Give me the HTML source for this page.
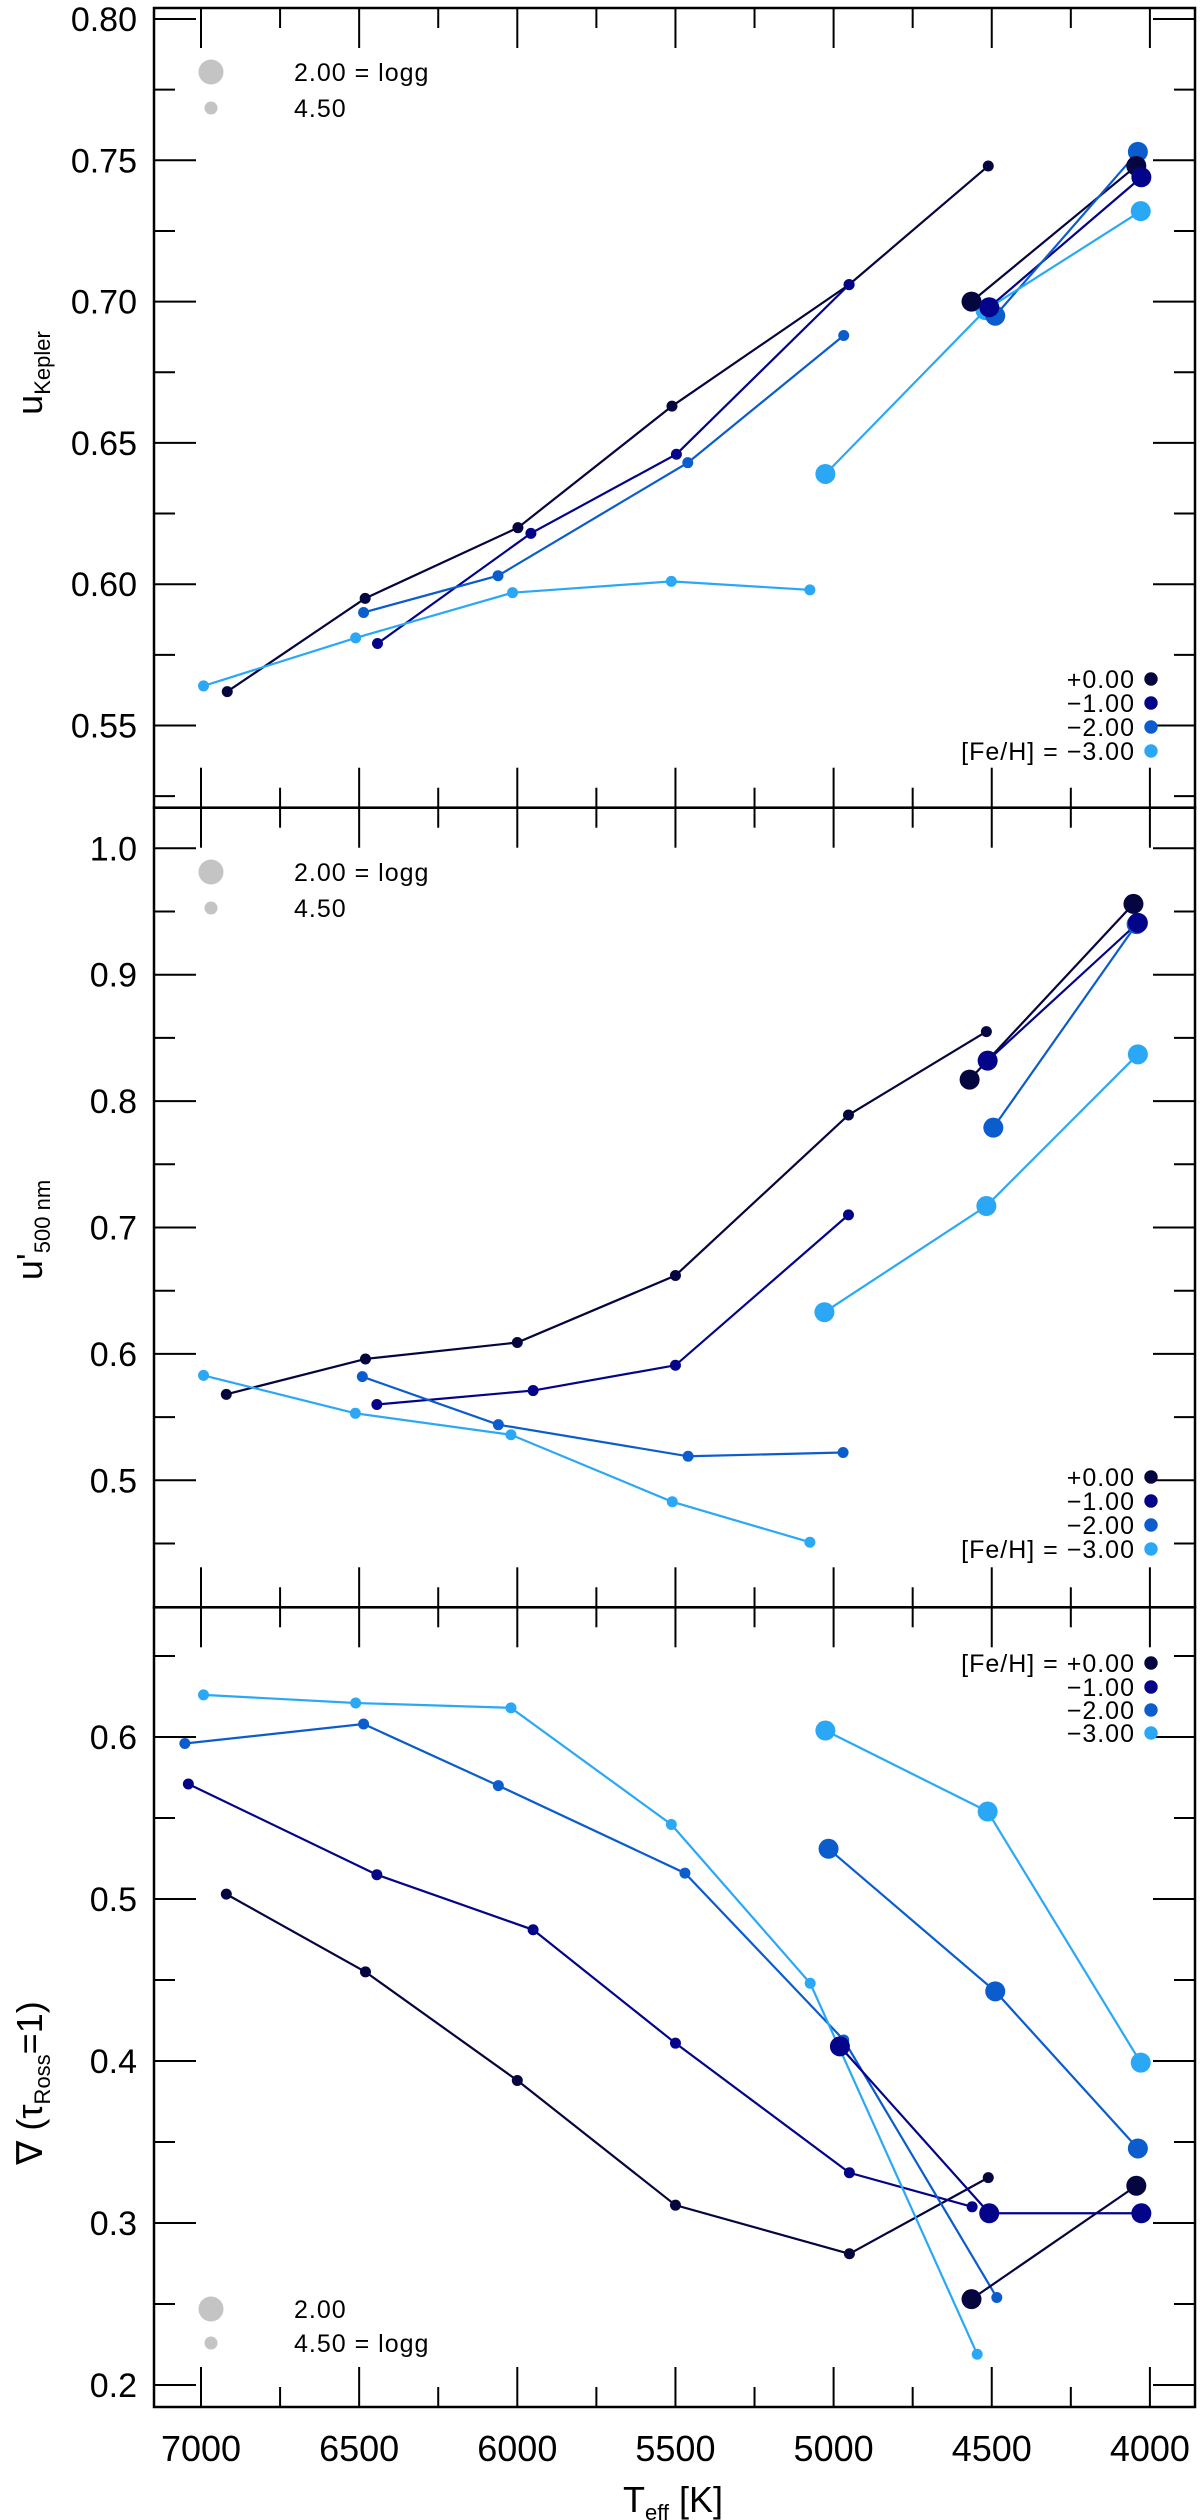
<!DOCTYPE html>
<html><head><meta charset="utf-8"><style>
html,body{margin:0;padding:0;background:#fff;}
svg{display:block;font-family:"Liberation Sans",sans-serif;}
</style></head><body>
<svg id="chart" width="1200" height="2520" viewBox="0 0 1200 2520" xmlns="http://www.w3.org/2000/svg"></svg>
<script>
// ---------- data ----------
const metallicities = ["+0.00","\u22121.00","\u22122.00","\u22123.00"];
const seriesColors = ["#05053f","#04048a","#0b5ccc","#2ba8f5"];
const xTicks = [7000,6500,6000,5500,5000,4500,4000];

// Panel 1: u_Kepler
const kep_m0_dwarf_teff=[6917,6481,5998,5511,4951,4511];
const kep_m0_dwarf_val =[0.562,0.595,0.620,0.663,0.706,0.748];
const kep_m1_dwarf_teff=[6442,5957,5497,4951];
const kep_m1_dwarf_val =[0.579,0.618,0.646,0.706];
const kep_m2_dwarf_teff=[6486,6061,5461,4968];
const kep_m2_dwarf_val =[0.590,0.603,0.643,0.688];
const kep_m3_dwarf_teff=[6992,6511,6015,5513,5075];
const kep_m3_dwarf_val =[0.564,0.581,0.597,0.601,0.598];
const kep_m0_giant_teff=[4564,4043];
const kep_m0_giant_val =[0.700,0.748];
const kep_m1_giant_teff=[4508,4027];
const kep_m1_giant_val =[0.698,0.744];
const kep_m2_giant_teff=[4489,4038];
const kep_m2_giant_val =[0.695,0.753];
const kep_m3_giant_teff=[5026,4520,4029];
const kep_m3_giant_val =[0.639,0.697,0.732];

// Panel 2: u'_500nm
const u5_m0_dwarf_teff=[6920,6480,6000,5500,4953,4517];
const u5_m0_dwarf_val =[0.568,0.596,0.609,0.662,0.789,0.855];
const u5_m1_dwarf_teff=[6444,5950,5500,4953];
const u5_m1_dwarf_val =[0.560,0.571,0.591,0.710];
const u5_m2_dwarf_teff=[6490,6060,5460,4970];
const u5_m2_dwarf_val =[0.582,0.544,0.519,0.522];
const u5_m3_dwarf_teff=[6992,6512,6020,5510,5075];
const u5_m3_dwarf_val =[0.583,0.553,0.536,0.483,0.451];
const u5_m0_giant_teff=[4570,4052];
const u5_m0_giant_val =[0.817,0.956];
const u5_m1_giant_teff=[4513,4038];
const u5_m1_giant_val =[0.832,0.941];
const u5_m2_giant_teff=[4495,4042];
const u5_m2_giant_val =[0.779,0.940];
const u5_m3_giant_teff=[5029,4517,4038];
const u5_m3_giant_val =[0.633,0.717,0.837];

// Panel 3: nabla(tau_Ross=1)
const nab_m0_dwarf_teff=[6920,6480,6000,5500,4950,4511];
const nab_m0_dwarf_val =[0.503,0.455,0.388,0.311,0.281,0.328];
const nab_m1_dwarf_teff=[7040,6444,5950,5500,4950,4562];
const nab_m1_dwarf_val =[0.571,0.515,0.481,0.411,0.331,0.310];
const nab_m2_dwarf_teff=[7051,6486,6060,5470,4968,4484];
const nab_m2_dwarf_val =[0.596,0.608,0.570,0.516,0.413,0.254];
const nab_m3_dwarf_teff=[6992,6511,6020,5513,5074,4546];
const nab_m3_dwarf_val =[0.626,0.621,0.618,0.546,0.448,0.219];
const nab_m0_giant_teff=[4564,4043];
const nab_m0_giant_val =[0.253,0.323];
const nab_m1_giant_teff=[4980,4508,4027];
const nab_m1_giant_val =[0.409,0.306,0.306];
const nab_m2_giant_teff=[5016,4489,4038];
const nab_m2_giant_val =[0.531,0.443,0.346];
const nab_m3_giant_teff=[5026,4513,4029];
const nab_m3_giant_val =[0.604,0.554,0.399];

const kepMajor=[0.55,0.60,0.65,0.70,0.75,0.80];
const kepMinor=[0.525,0.575,0.625,0.675,0.725,0.775];
const kepLabels=["0.55","0.60","0.65","0.70","0.75","0.80"];
const u5Major=[0.5,0.6,0.7,0.8,0.9,1.0];
const u5Minor=[0.45,0.55,0.65,0.75,0.85,0.95];
const u5Labels=["0.5","0.6","0.7","0.8","0.9","1.0"];
const nabMajor=[0.2,0.3,0.4,0.5,0.6];
const nabMinor=[0.25,0.35,0.45,0.55,0.65];
const nabLabels=["0.2","0.3","0.4","0.5","0.6"];

// ---------- drawing ----------
const NS="http://www.w3.org/2000/svg";
const svg=document.getElementById('chart');
const X0=154,X1=1195;
function xScale(t){return 201+(7000-t)*0.3163;}
function mk(tag,attrs,parent){const e=document.createElementNS(NS,tag);for(const k in attrs)e.setAttribute(k,attrs[k]);(parent||svg).appendChild(e);return e;}

const panels=[
 {name:"u-kepler",top:8,bottom:807.7,y:v=>19+(0.80-v)*2826,major:kepMajor,minor:kepMinor,labels:kepLabels,
  dw:[[kep_m0_dwarf_teff,kep_m0_dwarf_val],[kep_m1_dwarf_teff,kep_m1_dwarf_val],[kep_m2_dwarf_teff,kep_m2_dwarf_val],[kep_m3_dwarf_teff,kep_m3_dwarf_val]],
  gi:[[kep_m0_giant_teff,kep_m0_giant_val],[kep_m1_giant_teff,kep_m1_giant_val],[kep_m2_giant_teff,kep_m2_giant_val],[kep_m3_giant_teff,kep_m3_giant_val]]},
 {name:"u-500nm",top:807.7,bottom:1607.3,y:v=>848.3+(1.0-v)*1264,major:u5Major,minor:u5Minor,labels:u5Labels,
  dw:[[u5_m0_dwarf_teff,u5_m0_dwarf_val],[u5_m1_dwarf_teff,u5_m1_dwarf_val],[u5_m2_dwarf_teff,u5_m2_dwarf_val],[u5_m3_dwarf_teff,u5_m3_dwarf_val]],
  gi:[[u5_m0_giant_teff,u5_m0_giant_val],[u5_m1_giant_teff,u5_m1_giant_val],[u5_m2_giant_teff,u5_m2_giant_val],[u5_m3_giant_teff,u5_m3_giant_val]]},
 {name:"nabla",top:1607.3,bottom:2407,y:v=>2385+(0.2-v)*1620,major:nabMajor,minor:nabMinor,labels:nabLabels,
  dw:[[nab_m0_dwarf_teff,nab_m0_dwarf_val],[nab_m1_dwarf_teff,nab_m1_dwarf_val],[nab_m2_dwarf_teff,nab_m2_dwarf_val],[nab_m3_dwarf_teff,nab_m3_dwarf_val]],
  gi:[[nab_m0_giant_teff,nab_m0_giant_val],[nab_m1_giant_teff,nab_m1_giant_val],[nab_m2_giant_teff,nab_m2_giant_val],[nab_m3_giant_teff,nab_m3_giant_val]]}
];
const drawOrder=[3,2,0,1];

panels.forEach((p,pi)=>{
  const g=mk('g',{});
  
  
  const fr=mk('rect',{x:X0,y:p.top,width:X1-X0,height:p.bottom-p.top,fill:'none',stroke:'#000','stroke-width':2.5},g);
  
  
  for(let t=7000;t>=3900;t-=250){
    const x=xScale(t),L=(t%500===0)?40:20;
    const a=mk('line',{x1:x,x2:x,y1:p.bottom,y2:p.bottom-L,stroke:'#000','stroke-width':2},g);
    
    
    const b=mk('line',{x1:x,x2:x,y1:p.top,y2:p.top+L,stroke:'#000','stroke-width':2},g);
    
    
  }
  p.major.forEach((v,i)=>{
    const y=p.y(v);
    const a=mk('line',{x1:X0,x2:X0+42,y1:y,y2:y,stroke:'#000','stroke-width':2},g);
    
    
    const b=mk('line',{x1:X1,x2:X1-42,y1:y,y2:y,stroke:'#000','stroke-width':2},g);
    
    
    const tx=mk('text',{x:137,y:y+12,'text-anchor':'end','font-size':34,fill:'#000'},g);
    tx.textContent=p.labels[i];
    
    
  });
  p.minor.forEach(v=>{
    const y=p.y(v);
    const a=mk('line',{x1:X0,x2:X0+21,y1:y,y2:y,stroke:'#000','stroke-width':2},g);
    
    
    const b=mk('line',{x1:X1,x2:X1-21,y1:y,y2:y,stroke:'#000','stroke-width':2},g);
    
    
  });
  [[p.dw,5.5,'dwarf'],[p.gi,10,'giant']].forEach(([set,r,kind])=>{
    set.forEach((s,si)=>{
      const pts=s[0].map((t,i)=>xScale(t)+','+p.y(s[1][i])).join(' ');
      const pl=mk('polyline',{points:pts,fill:'none',stroke:seriesColors[si],'stroke-width':2.2},g);
      
      
    });
  });
  [[p.dw,5.5,'dwarf'],[p.gi,10,'giant']].forEach(([set,r,kind])=>{
    drawOrder.forEach(si=>{
      const s=set[si];
      s[0].forEach((t,i)=>{
        const c=mk('circle',{cx:xScale(t),cy:p.y(s[1][i]),r:r,fill:seriesColors[si]},g);
        
        
      });
    });
  });
});

const loggPos=[[72,108,true],[872,908,true],[2309,2343,false]];
loggPos.forEach(([yb,ys,topEq])=>{
  const g=mk('g',{});
  
  
  mk('circle',{cx:211,cy:yb,r:12.5,fill:'#c4c4c4'},g);
  mk('circle',{cx:211,cy:ys,r:6.5,fill:'#c4c4c4'},g);
  const t1=mk('text',{x:294,y:yb+9,'font-size':25,fill:'#000','letter-spacing':1},g);
  t1.textContent=topEq?"2.00 = logg":"2.00";
  const t2=mk('text',{x:294,y:ys+9,'font-size':25,fill:'#000','letter-spacing':1},g);
  t2.textContent=topEq?"4.50":"4.50 = logg";
});

const fehLegendRows=[[679,703,727,751,3],[1477,1501,1525,1549,3],[1663,1687,1710,1733,0]];
fehLegendRows.forEach(row=>{
  const g=mk('g',{});
  
  
  for(let i=0;i<4;i++){
    const y=row[i];
    const t=mk('text',{x:1135,y:y+9,'text-anchor':'end','font-size':25,fill:'#000','letter-spacing':1},g);
    t.textContent=(i===row[4]?"[Fe/H] = ":"")+metallicities[i];
    mk('circle',{cx:1151,cy:y,r:6.7,fill:seriesColors[i]},g);
  }
});

xTicks.forEach(t=>{
  const tx=mk('text',{x:xScale(t),y:2461,'text-anchor':'middle','font-size':36,fill:'#000'});
  tx.textContent=String(t);
  
  
});
</script>
<svg width="1200" height="2520" style="position:absolute;left:0;top:0;font-family:'Liberation Sans',sans-serif" xmlns="http://www.w3.org/2000/svg">
  <text x="673" y="2512" text-anchor="middle" font-size="36">T<tspan font-size="22" dy="8">eff</tspan><tspan dy="-8"> [K]</tspan></text>
  <text transform="translate(42,373) rotate(-90)" text-anchor="middle" font-size="36">u<tspan font-size="22" dy="8">Kepler</tspan></text>
  <text transform="translate(42,1230) rotate(-90)" text-anchor="middle" font-size="36">u'<tspan font-size="22" dy="8">500 nm</tspan></text>
  <text transform="translate(42,2083) rotate(-90)" text-anchor="middle" font-size="36">∇ (τ<tspan font-size="22" dy="8">Ross</tspan><tspan dy="-8">=1)</tspan></text>
</svg>
</body></html>
